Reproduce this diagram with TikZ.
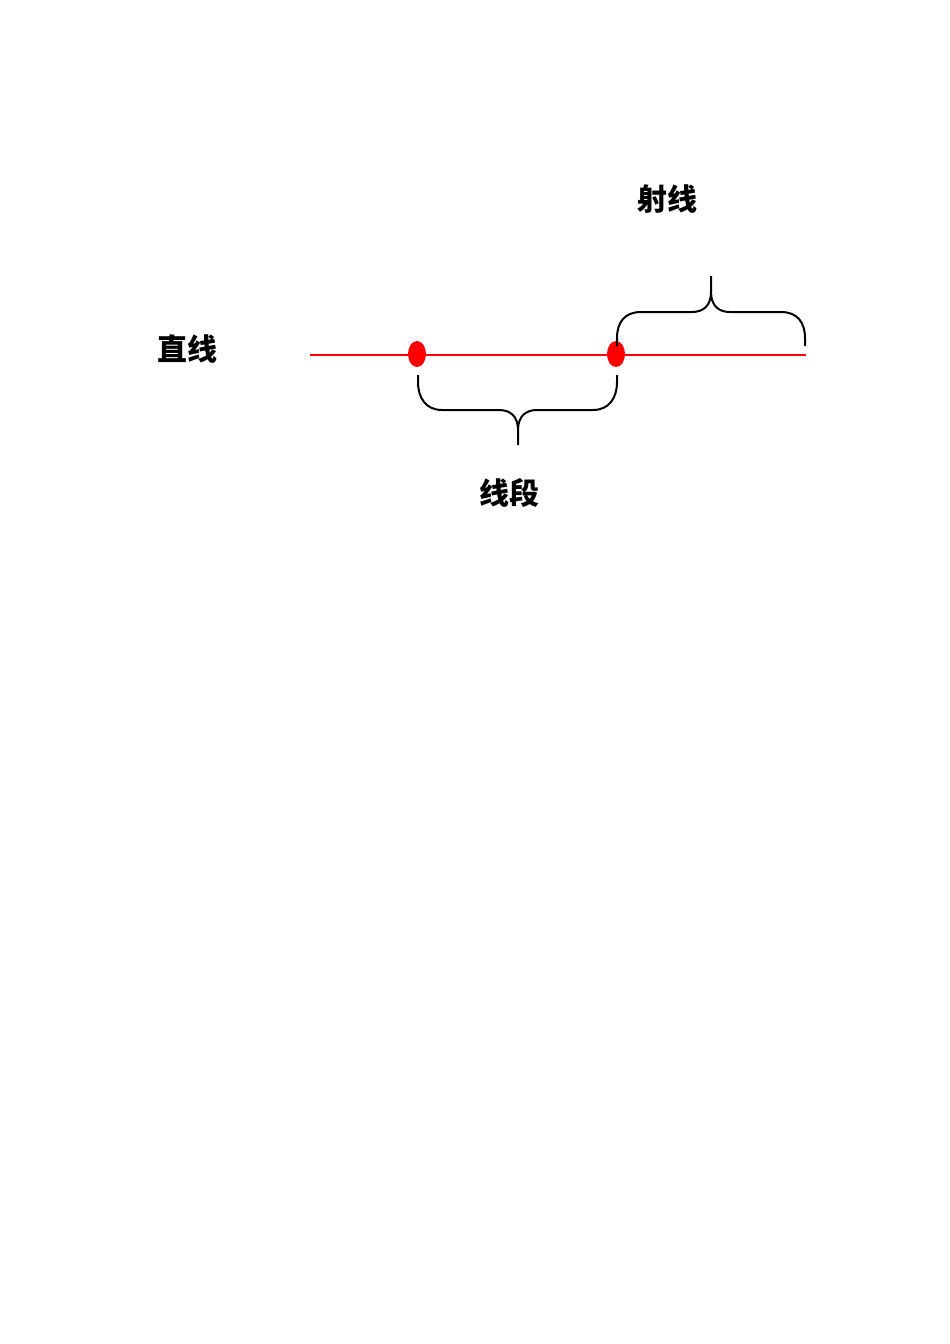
\documentclass[tikz,border=0pt]{standalone}
\usepackage{fontspec}
\usepackage{tikz}
\newfontfamily\cjk{Noto Sans CJK SC}
\tikzset{>=latex}
\tikzset{
  lbl/.style={font=\cjk\bfseries\fontsize{30}{30}\selectfont, inner sep=0pt},
  pt/.style={ellipse, fill=red, minimum width=18pt, minimum height=26pt, inner sep=0pt},
  brace/.style={line width=2pt, black}
}
\usetikzlibrary{shapes.geometric}

\begin{document}
\begin{tikzpicture}[x=1pt, y=-1pt]
    \useasboundingbox (0, 0) rectangle (950, 1344);
    \coordinate (L) at (310, 355);
    \coordinate (R) at (806, 355);
    \draw[red, line width=2pt] (L) -- (R);
    \node[pt] (A) at (417, 354) {};
    \node[pt] (B) at (616, 354) {};
    \node[lbl] (line) at (187, 349) {直线};
    \node[lbl] (ray) at (667, 199) {射线};
    \node[lbl] (seg) at (509, 493) {线段};
    \coordinate (s1) at (418, 375);
    \coordinate (s2) at (617, 375);
    \coordinate (stip) at (518, 445);
    \draw[brace] (s1) -- (418, 382) .. controls (418, 398) and (426, 410) .. (442, 410) -- (499, 410)
      .. controls (510, 410) and (518, 416) .. (518, 430) -- (stip)
      -- (518, 430) .. controls (518, 416) and (526, 410) .. (537, 410) -- (593, 410)
      .. controls (609, 410) and (617, 398) .. (617, 382) -- (s2);
    \coordinate (r1) at (617, 346);
    \coordinate (r2) at (805, 346);
    \coordinate (rtip) at (711, 276);
    \draw[brace] (r1) -- (617, 338) .. controls (617, 322) and (625, 312) .. (641, 312) -- (692, 312)
      .. controls (703, 312) and (711, 306) .. (711, 292) -- (rtip)
      -- (711, 292) .. controls (711, 306) and (719, 312) .. (730, 312) -- (781, 312)
      .. controls (797, 312) and (805, 322) .. (805, 338) -- (r2);
\end{tikzpicture}
\end{document}
